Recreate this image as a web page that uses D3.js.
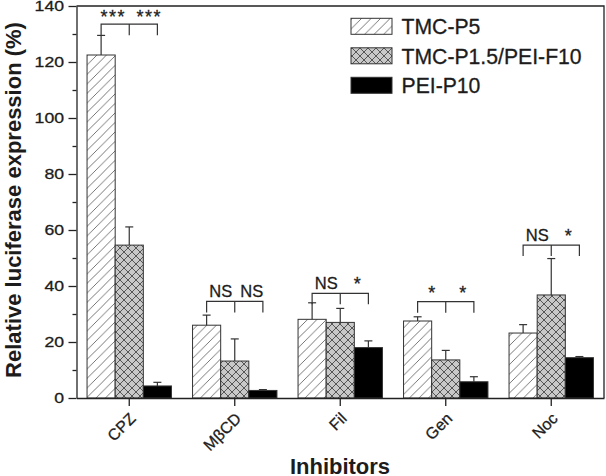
<!DOCTYPE html>
<html>
<head>
<meta charset="utf-8">
<script src="https://cdn.jsdelivr.net/npm/d3@7"></script>
<style>
  html, body { margin: 0; padding: 0; background: #fff; }
  svg { display: block; font-family: "Liberation Sans", Arial, Helvetica, sans-serif; }
</style>
</head>
<body>
<svg id="chart" width="606" height="476"></svg>
<script>
// ---------------- data ----------------
const categories = ["CPZ", "MβCD", "Fil", "Gen", "Noc"];
const seriesNames = ["TMC-P5", "TMC-P1.5/PEI-F10", "PEI-P10"];
const tmcP5      = [122.5, 26.0, 28.1, 27.5, 23.2];
const tmcP5Err   = [7.0, 3.6, 5.9, 1.5, 3.0];
const tmcPei     = [54.6, 13.2, 27.0, 13.6, 36.8];
const tmcPeiErr  = [6.5, 7.9, 5.0, 3.4, 13.0];
const peiP10     = [4.3, 2.7, 18.0, 5.8, 14.4];
const peiP10Err  = [1.3, 0.3, 2.4, 1.8, 0.4];
const yTicks      = [0, 20, 40, 60, 80, 100, 120, 140];
const yMinorTicks = [10, 30, 50, 70, 90, 110, 130];
const sigLeft    = ["***", "NS", "NS", "*", "NS"];
const sigRight   = ["***", "NS", "*", "*", "*"];
const bracketLevel = [133.5, 34.5, 37.4, 34.4, 54.6];
const yTitle = "Relative luciferase expression (%)";
const xTitle = "Inhibitors";

const values = [tmcP5, tmcPei, peiP10];
const errors = [tmcP5Err, tmcPeiErr, peiP10Err];

// ---------------- layout ----------------
const svg = d3.select("#chart");
const pLeft = 76.5, pRight = 604, pTop = 6, pBottom = 398;
const ink = "#222";
const txt = "#1c1c1c";

const x = d3.scaleBand().domain(categories).range([pLeft, pRight]).paddingInner(0).paddingOuter(0);
const bw = x.bandwidth();
const xs = d3.scaleBand().domain(d3.range(seriesNames.length))
  .range([bw * 0.1, bw * 0.9]).paddingInner(0).paddingOuter(0);
const y = d3.scaleLinear().domain([0, 140]).range([pBottom, pTop]);

// patterns
const defs = svg.append("defs");
const hp = 9.5;
const hatch = defs.append("pattern").attr("id", "hatch")
  .attr("patternUnits", "userSpaceOnUse").attr("width", hp).attr("height", hp);
hatch.append("rect").attr("width", hp).attr("height", hp).attr("fill", "#fff");
hatch.append("path")
  .attr("d", `M0,${hp} L${hp},0 M${-hp/2},${hp/2} L${hp/2},${-hp/2} M${hp/2},${hp*1.5} L${hp*1.5},${hp/2}`)
  .attr("stroke", "#555").attr("stroke-width", 0.8);

const cp = 8;
const cross = defs.append("pattern").attr("id", "cross")
  .attr("patternUnits", "userSpaceOnUse").attr("width", cp).attr("height", cp);
cross.append("rect").attr("width", cp).attr("height", cp).attr("fill", "#c8c8c8");
cross.append("path")
  .attr("d", `M0,${cp} L${cp},0 M${-cp/2},${cp/2} L${cp/2},${-cp/2} M${cp/2},${cp*1.5} L${cp*1.5},${cp/2}` +
             ` M0,0 L${cp},${cp} M${-cp/2},${cp/2} L${cp/2},${cp*1.5} M${cp/2},${-cp/2} L${cp*1.5},${cp/2}`)
  .attr("stroke", "#4a4a4a").attr("stroke-width", 0.9);

const fills = ["url(#hatch)", "url(#cross)", "#000"];

// ---------------- bars ----------------
const barG = svg.append("g");
seriesNames.forEach((name, s) => {
  barG.append("g").selectAll("rect").data(categories).join("rect")
    .attr("x", c => x(c) + xs(s))
    .attr("y", (c, i) => y(values[s][i]))
    .attr("width", xs.bandwidth())
    .attr("height", (c, i) => y(0) - y(values[s][i]))
    .attr("fill", fills[s])
    .attr("stroke", "#333").attr("stroke-width", 1);
});

// error bars (upper only)
const errG = svg.append("g").attr("stroke", "#333").attr("stroke-width", 1.2);
seriesNames.forEach((name, s) => {
  categories.forEach((c, i) => {
    const cx = x(c) + xs(s) + xs.bandwidth() / 2;
    const y0 = y(values[s][i]);
    const y1 = y(values[s][i] + errors[s][i]);
    errG.append("line").attr("x1", cx).attr("x2", cx).attr("y1", y0).attr("y2", y1);
    errG.append("line").attr("x1", cx - 4).attr("x2", cx + 4).attr("y1", y1).attr("y2", y1);
  });
});

// ---------------- significance brackets ----------------
const sigG = svg.append("g");
const legLen = 11;
categories.forEach((c, i) => {
  const centers = d3.range(3).map(s => x(c) + xs(s) + xs.bandwidth() / 2);
  const ly = y(bracketLevel[i]);
  sigG.append("path")
    .attr("d", `M${centers[0]},${ly + legLen} V${ly} H${centers[2]} V${ly + legLen} M${centers[1]},${ly} V${ly + legLen}`)
    .attr("fill", "none").attr("stroke", "#333").attr("stroke-width", 1.2);
  const labels = [sigLeft[i], sigRight[i]];
  const lx = [(centers[0] + centers[1]) / 2, (centers[1] + centers[2]) / 2 + 3];
  labels.forEach((lab, k) => {
    const isStar = lab.indexOf("*") >= 0;
    const multi = isStar && lab.length > 1;
    sigG.append("text")
      .attr("x", lx[k] + (multi ? (k === 0 ? -2 : 3) : 0))
      .attr("y", ly - (isStar ? (multi ? 1 : 3) : 4.5))
      .attr("text-anchor", "middle")
      .attr("font-size", isStar ? 18 : 16.5)
      .attr("letter-spacing", multi ? 1.5 : 0)
      .attr("fill", txt)
      .attr("stroke", txt).attr("stroke-width", 0.3)
      .text(lab);
  });
});

// ---------------- axes ----------------
const yAxis = svg.append("g").attr("transform", `translate(${pLeft},0)`)
  .call(d3.axisLeft(y).tickValues(yTicks).tickSize(8).tickSizeOuter(0).tickPadding(4.5));
yAxis.selectAll("text")
  .attr("font-size", 15.2).attr("font-family", "Liberation Sans, Arial, sans-serif")
  .attr("fill", txt).attr("stroke", txt).attr("stroke-width", 0.3)
  .attr("x", -12.5 / 1.16)
  .attr("transform", "scale(1.16,1)");
const yMinor = svg.append("g").attr("transform", `translate(${pLeft},0)`)
  .call(d3.axisLeft(y).tickValues(yMinorTicks).tickSize(4).tickSizeOuter(0).tickFormat(""));
yMinor.select(".domain").remove();

const xAxis = svg.append("g").attr("transform", `translate(0,${pBottom})`)
  .call(d3.axisBottom(x).tickSize(8).tickSizeOuter(0));
xAxis.selectAll("text")
  .attr("font-size", 16).attr("font-family", "Liberation Sans, Arial, sans-serif")
  .attr("fill", txt).attr("stroke", txt).attr("stroke-width", 0.3)
  .attr("x", null).attr("y", null).attr("dy", null)
  .attr("text-anchor", "end")
  .attr("transform", "translate(7.5,21.5) rotate(-45)");

[yAxis, yMinor, xAxis].forEach(g => {
  g.selectAll("path, line").attr("stroke", ink).attr("stroke-width", 1.3);
});

// frame: top and right
svg.append("path")
  .attr("d", `M${pLeft},${pTop} H${pRight} V${pBottom}`)
  .attr("fill", "none").attr("stroke", ink).attr("stroke-width", 1.3);

// titles
svg.append("text")
  .attr("transform", `translate(21,200) rotate(-90)`)
  .attr("text-anchor", "middle")
  .attr("font-size", 22).attr("font-weight", "bold").attr("fill", txt)
  .text(yTitle);
svg.append("text")
  .attr("x", 340).attr("y", 473.5)
  .attr("text-anchor", "middle")
  .attr("font-size", 22).attr("font-weight", "bold").attr("fill", txt)
  .text(xTitle);

// ---------------- legend ----------------
const legG = svg.append("g");
seriesNames.forEach((name, s) => {
  const ty = 18.3 + s * 29.5;
  legG.append("rect")
    .attr("x", 351).attr("y", ty).attr("width", 41).attr("height", 16)
    .attr("fill", fills[s]).attr("stroke", "#333").attr("stroke-width", 1);
  legG.append("text")
    .attr("x", 401.5).attr("y", ty + 15.8)
    .attr("font-size", 21.2).attr("fill", txt)
    .attr("stroke", txt).attr("stroke-width", 0.3)
    .text(name);
});
</script>
</body>
</html>
